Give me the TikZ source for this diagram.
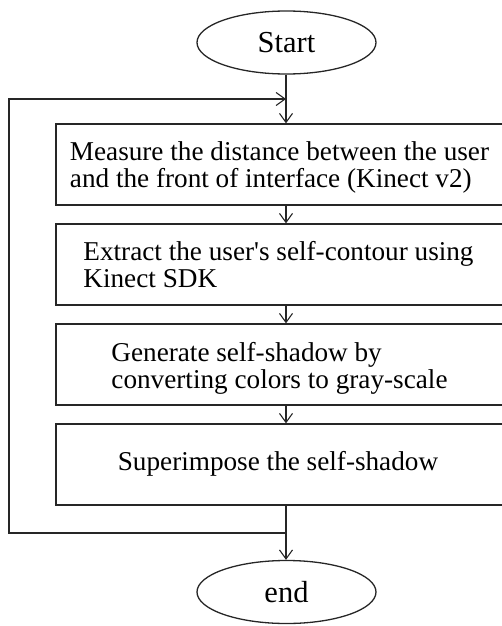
\documentclass[tikz,border=0pt]{standalone}
\usepackage{fontspec}
\setmainfont{Liberation Serif}[Ligatures=TeXOff]
\usetikzlibrary{arrows.meta,shapes.geometric}
\begin{document}
\begin{tikzpicture}[x=1pt,y=-1pt,
  line width=1.3pt, draw=black!85,
  every node/.style={inner sep=0pt},
  txt/.style={font=\fontsize{27.2}{27}\selectfont, align=left, anchor=base},
  box/.style={draw=black!85, rectangle, minimum width=447pt, minimum height=81pt},
  term/.style={draw=black!85, ellipse, minimum width=179pt, minimum height=63pt, font=\fontsize{30.5}{30.5}\selectfont},
  arr/.style={-{Straight Barb[length=9pt,width=13pt,line width=1.1pt]}}]
\clip (0,0) rectangle (502,626);
\node[term] (start) at (286.5,42.5) {Start};
\node[box] (b1) at (279.5,164.5) {};
\node[box] (b2) at (279.5,264.5) {};
\node[box] (b3) at (279.5,364.5) {};
\node[box] (b4) at (279.5,464.5) {};
\node[txt] (t1) at (279.5,187) {Measure the distance between the user\\and the front of interface (Kinect v2)};
\node[txt] (t2) at (278.5,287) {Extract the user's self-contour using\\Kinect SDK};
\node[txt] (t3) at (279.5,388) {Generate self-shadow by\\converting colors to gray-scale};
\node[txt] (t4) at (278,470) {Superimpose the self-shadow};
\node[term] (end) at (286.5,592) {end};
\coordinate (x) at (286,0);
\coordinate (jtop) at (286,99);
\coordinate (jbot) at (286,533);
\coordinate (ltop) at (9,99);
\coordinate (lbot) at (9,533);
\draw[arr] (start.south -| x) -- (x |- b1.north);
\draw[arr] (x |- b1.south) -- (x |- b2.north);
\draw[arr] (x |- b2.south) -- (x |- b3.north);
\draw[arr] (x |- b3.south) -- (x |- b4.north);
\draw[arr] (x |- b4.south) -- (x |- end.north);
\draw[arr] (jbot) -- (lbot) -- (ltop) -- (jtop);
\end{tikzpicture}
\end{document}
